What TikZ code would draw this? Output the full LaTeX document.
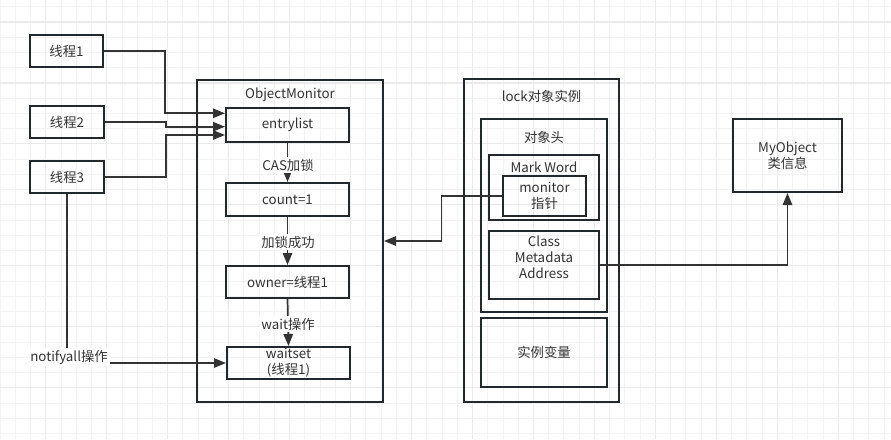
\documentclass[tikz,border=0pt]{standalone}
\usepackage{fontspec}
\setmainfont{Noto Sans CJK SC}
\usetikzlibrary{arrows.meta,calc}
\definecolor{txt}{HTML}{333333}
\definecolor{bxc}{HTML}{23282D}
\definecolor{lnc}{HTML}{333333}
\definecolor{gridminor}{HTML}{F2F2F2}
\definecolor{gridmajor}{HTML}{EBEBEB}
\begin{document}
\begin{tikzpicture}[x=0.75pt,y=-0.75pt,
  font=\fontsize{10}{12}\selectfont, text=txt,
  bx/.style={draw=bxc, line width=1.5pt, inner sep=0pt, align=center},
  sz/.style 2 args={minimum width=#1*0.75pt, minimum height=#2*0.75pt},
  arr/.style={draw=lnc, line width=1.3pt, -{Triangle[length=9pt,width=7pt]}},
  lbl/.style={fill=white, inner sep=1.5pt, align=center},
  ttl/.style={inner sep=0pt, align=center}]
\useasboundingbox (0,0) rectangle (891,439);
\fill[white] (0,0) rectangle (891,439);
% grid
\foreach \k in {0,...,58}{
  \pgfmathtruncatemacro{\m}{mod(\k,4)}
  \ifnum\m=3
    \draw[gridmajor, line width=0.9pt] ({15.24*\k},0) -- ({15.24*\k},439);
  \else
    \draw[gridminor, line width=0.6pt] ({15.24*\k},0) -- ({15.24*\k},439);
  \fi}
\foreach \j in {0,...,28}{
  \pgfmathtruncatemacro{\m}{mod(\j,4)}
  \ifnum\m=1
    \draw[gridmajor, line width=0.9pt] (0,{6.7+15.24*\j}) -- (891,{6.7+15.24*\j});
  \else
    \draw[gridminor, line width=0.6pt] (0,{6.7+15.24*\j}) -- (891,{6.7+15.24*\j});
  \fi}

% threads
\node[bx, sz={73}{32}] (t1) at (66.5,51) {线程1};
\node[bx, sz={74}{32}] (t2) at (67,122) {线程2};
\node[bx, sz={74}{32}] (t3) at (67,177) {线程3};

% ObjectMonitor
\node[bx, sz={186}{322}] (om) at (290,241) {};
\node[ttl] (omlbl) at (290,95) {ObjectMonitor};
\node[bx, sz={123}{34}] (entry) at (287.5,125) {entrylist};
\node[bx, sz={123}{33}] (count) at (287.5,199.5) {count=1};
\node[bx, sz={123}{32}] (owner) at (287.5,282) {owner=线程1};
\node[bx, sz={123}{32}] (waitset) at (288.5,363) {waitset\\(线程1)};

% lock object instance
\node[bx, sz={155}{323}] (lock) at (541.5,240.5) {};
\node[ttl] (locklbl) at (541.5,96) {lock对象实例};
\node[bx, sz={126}{193}] (head) at (544,215.5) {};
\node[ttl] (headlbl) at (544,137.5) {对象头};
\node[bx, sz={110}{65}] (mark) at (544,187.5) {};
\node[ttl] (marklbl) at (544,167.5) {Mark Word};
\node[bx, sz={83}{40}] (mon) at (544.5,196) {monitor\\指针};
\node[bx, sz={110}{68}] (cls) at (544,265) {};
\node[ttl] (clslbl) at (544,257.5) {Class\\Metadata\\Address};
\node[bx, sz={126}{69}] (inst) at (544,352.5) {实例变量};

% MyObject
\node[bx, sz={109}{73}] (myo) at (787.5,155.5) {MyObject\\类信息};

% connectors from threads
\draw[arr] (t1.east) -- ++(61,0) |- ([shift={(0,-11.7)}]entry.west);
\draw[arr] (t2.east) -- ++(61,0) |- ([shift={(0,1.7)}]entry.west);
\draw[arr] (t3.east) -- ++(61,0) |- ([shift={(0,10)}]entry.west);

% notifyall
\draw[arr] (t3.south) |- (waitset.west);
\node[lbl] (nlbl) at (69,357) {notifyall操作};

% inner flow
\draw[arr] (entry.south) -- (count.north);
\node[lbl] (l1) at (288,165) {CAS加锁};
\draw[arr] (count.south) -- (owner.north);
\node[lbl] (l2) at (288,242) {加锁成功};
\draw[arr] (owner.south) -- (waitset.north);
\node[lbl] (l3) at (288,324) {wait操作};

% monitor pointer -> ObjectMonitor
\draw[arr] (mon.west) -- ++(-60.5,0) |- (om.east);
% class metadata -> MyObject
\draw[arr] (cls.east) -| (myo.south);
\end{tikzpicture}
\end{document}
